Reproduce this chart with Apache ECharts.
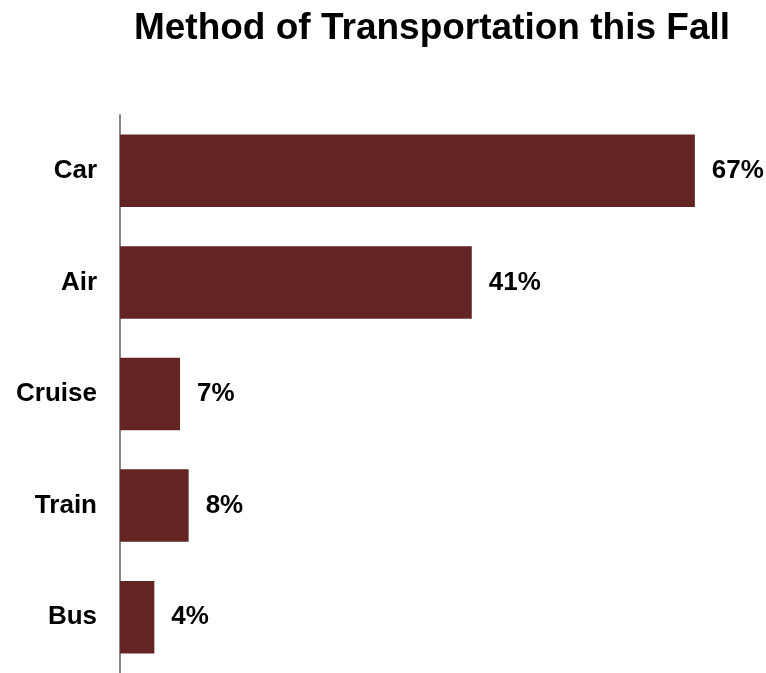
<!DOCTYPE html>
<html>
<head>
<meta charset="utf-8">
<script src="https://cdn.jsdelivr.net/npm/echarts@6/dist/echarts.min.js"></script>
<style>html,body{margin:0;padding:0;background:#fff;}#c{width:766px;height:673px;}</style>
</head>
<body>
<div id="c"></div>
<script>
const categories = ["Car", "Air", "Cruise", "Train", "Bus"];
const values = [67, 41, 7, 8, 4];
const titleText = "Method of Transportation this Fall";

const chart = echarts.init(document.getElementById('c'), null, {renderer: 'canvas'});
chart.setOption({
  animation: false,
  backgroundColor: '#ffffff',
  title: {
    text: titleText,
    left: 427,
    textAlign: 'center',
    top: 5,
    textStyle: {fontFamily: 'Liberation Sans, Arial, sans-serif', fontWeight: 'bold', fontSize: 37, color: '#000'}
  },
  grid: {left: 120, top: 115, right: 45.4, bottom: 0, containLabel: false},
  xAxis: {
    type: 'value', min: 0, max: 70,
    show: false
  },
  yAxis: {
    type: 'category', data: categories, inverse: true,
    axisLine: {show: true, lineStyle: {color: '#888888', width: 2}},
    axisTick: {show: false},
    axisLabel: {margin: 23, color: '#000', fontFamily: 'Liberation Sans, Arial, sans-serif', fontWeight: 'bold', fontSize: 26}
  },
  series: [{
    type: 'bar',
    data: values,
    barCategoryGap: '35%',
    itemStyle: {color: '#632523'},
    label: {
      show: true, position: 'right', distance: 17,
      formatter: p => p.value + '%',
      color: '#000', fontFamily: 'Liberation Sans, Arial, sans-serif', fontWeight: 'bold', fontSize: 26
    }
  }]
});
</script>
</body>
</html>
